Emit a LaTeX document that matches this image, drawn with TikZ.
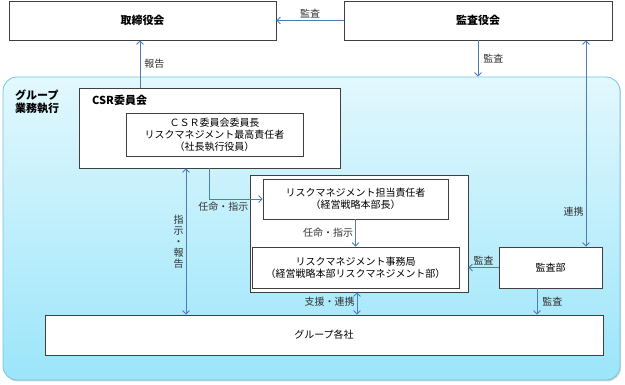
\documentclass[tikz,border=0pt]{standalone}
\usepackage{fontspec}
\setmainfont{Noto Sans CJK JP}
\usepackage{tikz}
\usetikzlibrary{arrows.meta, positioning, calc, shadows}
\definecolor{rmblue}{HTML}{4A7EBB}
\definecolor{rmline}{HTML}{404040}
\definecolor{rmsky}{HTML}{74C6DE}
\definecolor{rmtop}{HTML}{E2F8FD}
\definecolor{rmbottom}{HTML}{9BE5FA}

\begin{document}
\begin{tikzpicture}[
    x=1pt, y=-1pt,
    font=\fontsize{10pt}{12pt}\selectfont,
    org_box/.style={rectangle, draw=rmline, fill=white, line width=0.8pt, inner sep=0pt, align=center},
    group_box/.style={rectangle, rounded corners=14pt, top color=rmtop, bottom color=rmbottom, draw=rmsky, line width=0.8pt, drop shadow={shadow xshift=1pt, shadow yshift=-1.5pt, opacity=0.35}},
    bold_label/.style={font=\fontsize{11pt}{12.5pt}\selectfont\bfseries, align=left, inner sep=0pt},
    arrow/.style={-{Straight Barb[length=3.5pt, width=7pt]}, line width=0.8pt, draw=rmblue},
    twoway/.style={{Straight Barb[length=3.5pt, width=7pt]}-{Straight Barb[length=3.5pt, width=7pt]}, line width=0.8pt, draw=rmblue},
    tag/.style={inner sep=2pt, text=black!80}
]
\useasboundingbox (0,0) rectangle (625,385);

% Group frame
\node[group_box, minimum width=617pt, minimum height=303pt] (group) at (311.5,228.5) {};
\node[bold_label, anchor=north west] (grouplabel) at (15,90) {グループ\\業務執行};

% Boards
\node[org_box, minimum width=267pt, minimum height=39pt, font=\fontsize{11pt}{12.5pt}\selectfont\bfseries] (board) at (142.5,20.5) {取締役会};
\node[org_box, minimum width=268pt, minimum height=39pt, font=\fontsize{11pt}{12.5pt}\selectfont\bfseries] (auditbd) at (478,20.5) {監査役会};

% CSR committee
\node[org_box, minimum width=261pt, minimum height=80pt] (csr) at (209.5,128) {};
\node[bold_label, anchor=west] (csrlabel) at (92,100) {CSR委員会};
\node[org_box, minimum width=177pt, minimum height=43pt] (chair) at (214.5,134.5) {ＣＳＲ委員会委員長\\リスクマネジメント最高責任者\\（社長執行役員）};

% Risk management
\node[org_box, minimum width=218pt, minimum height=117pt] (rmgroup) at (359,233.5) {};
\node[org_box, minimum width=185pt, minimum height=40pt] (officer) at (355.5,199) {リスクマネジメント担当責任者\\（経営戦略本部長）};
\node[org_box, minimum width=207pt, minimum height=41pt] (office) at (355.5,267.5) {リスクマネジメント事務局\\（経営戦略本部リスクマネジメント部）};

% Audit dept and group companies
\node[org_box, minimum width=103pt, minimum height=41pt] (auditdept) at (550.5,267.5) {監査部};
\node[org_box, minimum width=558pt, minimum height=40pt] (companies) at (324,335) {グループ各社};

% Connections
\draw[arrow] (auditbd.west) -- node[tag, above, pos=0.5] {監査} (board.east);
\draw[arrow] (csr.north -| 140,0) -- node[tag, right, xshift=2pt] {報告} (board.south -| 140,0);
\draw[arrow] (auditbd.south) -- node[tag, right, xshift=3pt] {監査} (group.north -| auditbd.south);
\draw[twoway] (auditbd.south -| 586,0) -- node[tag, left, pos=0.83] {連携} (auditdept.north -| 586,0);
\draw[arrow] (csr.south -| 209,0) |- node[tag, pos=0.5, anchor=north west, xshift=-13pt, yshift=-1pt] {任命・指示} (officer.west);
\draw[arrow] (officer.south) -- node[tag, left] {任命・指示} (office.north);
\draw[twoway] (csr.south -| 186,0) -- node[tag, left, pos=0.5, align=center, font=\fontsize{10pt}{11pt}\selectfont] {指\\示\\・\\報\\告} (companies.north -| 186,0);
\draw[twoway] (rmgroup.south -| 357,0) -- node[tag, left, yshift=2pt] {支援・連携} (companies.north -| 357,0);
\draw[arrow] (auditdept.west) -- node[tag, above] {監査} (auditdept.west -| rmgroup.east);
\draw[arrow] (auditdept.south -| 537,0) -- node[tag, right, xshift=3pt] {監査} (companies.north -| 537,0);

\end{tikzpicture}
\end{document}
